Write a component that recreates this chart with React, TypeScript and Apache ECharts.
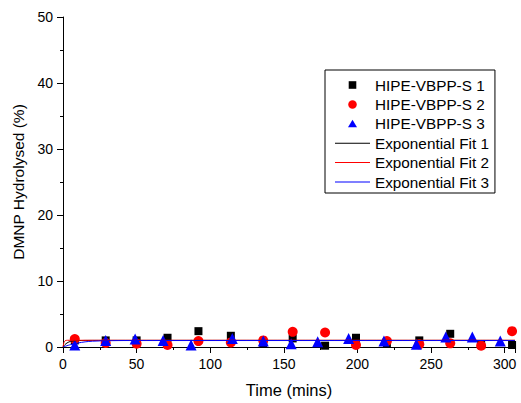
import React, { useEffect, useRef } from "react";
import * as echarts from "echarts";

const xTicks = [0, 50, 100, 150, 200, 250, 300];
const yTicks = [0, 10, 20, 30, 40, 50];

const seriesNames = ["HIPE-VBPP-S 1", "HIPE-VBPP-S 2", "HIPE-VBPP-S 3"];
const fitNames = ["Exponential Fit 1", "Exponential Fit 2", "Exponential Fit 3"];

const data1: [number, number][] = [
  [8, 1.0], [29, 1.0], [50, 1.0], [71, 1.4], [92, 2.4], [114, 1.7], [136, 0.6], [156, 1.3],
  [178, 0.2], [199, 1.4], [220, 0.55], [242, 1.0], [263, 2.0], [284, 0.3], [305, 0.3],
];
const data2: [number, number][] = [
  [8, 1.2], [29, 0.6], [50, 0.5], [71, 0.3], [92, 0.9], [114, 0.7], [136, 1.0], [156, 2.3],
  [178, 2.2], [199, 0.3], [220, 0.9], [242, 0.4], [263, 0.55], [284, 0.2], [305, 2.4],
];
const data3: [number, number][] = [
  [8, 0.3], [29, 1.0], [49, 1.2], [68, 1.0], [87, 0.3], [115, 1.3], [136, 0.9], [155, 0.5],
  [173, 0.8], [194, 1.3], [218, 0.9], [240, 0.4], [260, 1.5], [278, 1.5], [297, 0.9],
];

const fit1: [number, number][] = [[0, 0], [2, 0.5], [5, 0.85], [10, 0.97], [20, 1.0], [307, 1.0]];
const fit2: [number, number][] = [[0, 0], [0.7, 0.7], [1.5, 0.95], [3, 1.02], [307, 1.02]];
const fit3: [number, number][] = [
  [0, 0], [5, 0.35], [10, 0.6], [15, 0.78], [20, 0.88], [30, 0.95], [45, 0.98], [307, 0.98],
];

const colors = ["#000000", "#ff0000", "#0000ff"];

const iconSquare = "path://M0,0M16,16M4.2,4.2h7.6v7.6h-7.6z";
const iconCircle = "path://M0,0M16,16M3.75,8a4.25,4.25 0 1,0 8.5,0a4.25,4.25 0 1,0 -8.5,0z";
const iconTriangle = "path://M0,0M16,16M3.5,11.5L8,4L12.5,11.5z";
const iconLine = "path://M0,0M35,16M0,7.5h35v1h-35z";

const FONT = "'Liberation Sans', Arial, sans-serif";

export default function App() {
  const ref = useRef<HTMLDivElement>(null);
  useEffect(() => {
    if (!ref.current) return;
    const chart = echarts.init(ref.current, undefined, { renderer: "svg" });
    const scatterDefs = [
      { name: seriesNames[0], data: data1, symbol: "rect", size: 8 },
      { name: seriesNames[1], data: data2, symbol: "circle", size: 10 },
      { name: seriesNames[2], data: data3, symbol: "triangle", size: 11 },
    ];
    const fits = [fit1, fit2, fit3];
    const option: any = {
      animation: false,
      backgroundColor: "#ffffff",
      textStyle: { fontFamily: FONT },
      grid: { left: 63, top: 17, right: 6, bottom: 51, containLabel: false },
      legend: {
        orient: "vertical",
        left: 325,
        top: 70,
        selectedMode: false,
        backgroundColor: "#ffffff",
        borderColor: "#000000",
        borderWidth: 1,
        borderRadius: 0,
        padding: [7, 6, 3, 10],
        itemWidth: 35,
        itemHeight: 16,
        itemGap: 3.4,
        textStyle: { fontFamily: FONT, fontSize: 15.3, color: "#000", lineHeight: 16 },
        data: [
          { name: seriesNames[0], icon: iconSquare },
          { name: seriesNames[1], icon: iconCircle },
          { name: seriesNames[2], icon: iconTriangle },
          { name: fitNames[0], icon: iconLine },
          { name: fitNames[1], icon: iconLine },
          { name: fitNames[2], icon: iconLine },
        ],
      },
      xAxis: {
        type: "value",
        min: 0,
        max: 307,
        interval: 50,
        name: "Time (mins)",
        nameLocation: "middle",
        nameGap: 34,
        nameTextStyle: { fontFamily: FONT, fontSize: 16.5, color: "#000" },
        axisLine: { show: true, onZero: false, lineStyle: { color: "#000", width: 1 } },
        axisTick: { show: true, inside: false, length: 6, lineStyle: { color: "#000" } },
        minorTick: { show: true, splitNumber: 2, length: 3, lineStyle: { color: "#000" } },
        splitLine: { show: false },
        axisLabel: {
          margin: 10,
          fontFamily: FONT,
          fontSize: 14,
          color: "#000",
          showMaxLabel: false,
          formatter: (v: number) => (xTicks.includes(v) ? String(v) : ""),
        },
      },
      yAxis: {
        type: "value",
        min: 0,
        max: 50,
        interval: 10,
        name: "DMNP Hydrolysed (%)",
        nameLocation: "middle",
        nameGap: 35,
        nameTextStyle: { fontFamily: FONT, fontSize: 15.5, color: "#000" },
        axisLine: { show: true, onZero: false, lineStyle: { color: "#000", width: 1 } },
        axisTick: { show: true, inside: false, length: 6, lineStyle: { color: "#000" } },
        minorTick: { show: true, splitNumber: 2, length: 3, lineStyle: { color: "#000" } },
        splitLine: { show: false },
        axisLabel: {
          margin: 10,
          fontFamily: FONT,
          fontSize: 14,
          color: "#000",
          formatter: (v: number) => (yTicks.includes(v) ? String(v) : ""),
        },
      },
      series: [
        ...scatterDefs.map((s, i) => ({
          name: s.name,
          type: "scatter",
          data: s.data,
          symbol: s.symbol,
          symbolSize: s.size,
          itemStyle: { color: colors[i], opacity: 1 },
          z: 2 + i,
        })),
        ...fits.map((f, i) => ({
          name: fitNames[i],
          type: "line",
          data: f,
          symbol: "none",
          smooth: 0.3,
          lineStyle: { color: colors[i], width: 1 },
          itemStyle: { color: colors[i] },
          z: 6 + i,
        })),
      ],
    };
    chart.setOption(option);
    return () => chart.dispose();
  }, []);
  return <div ref={ref} style={{ width: 521, height: 403, position: "absolute", left: 0, top: 0 }} />;
}
